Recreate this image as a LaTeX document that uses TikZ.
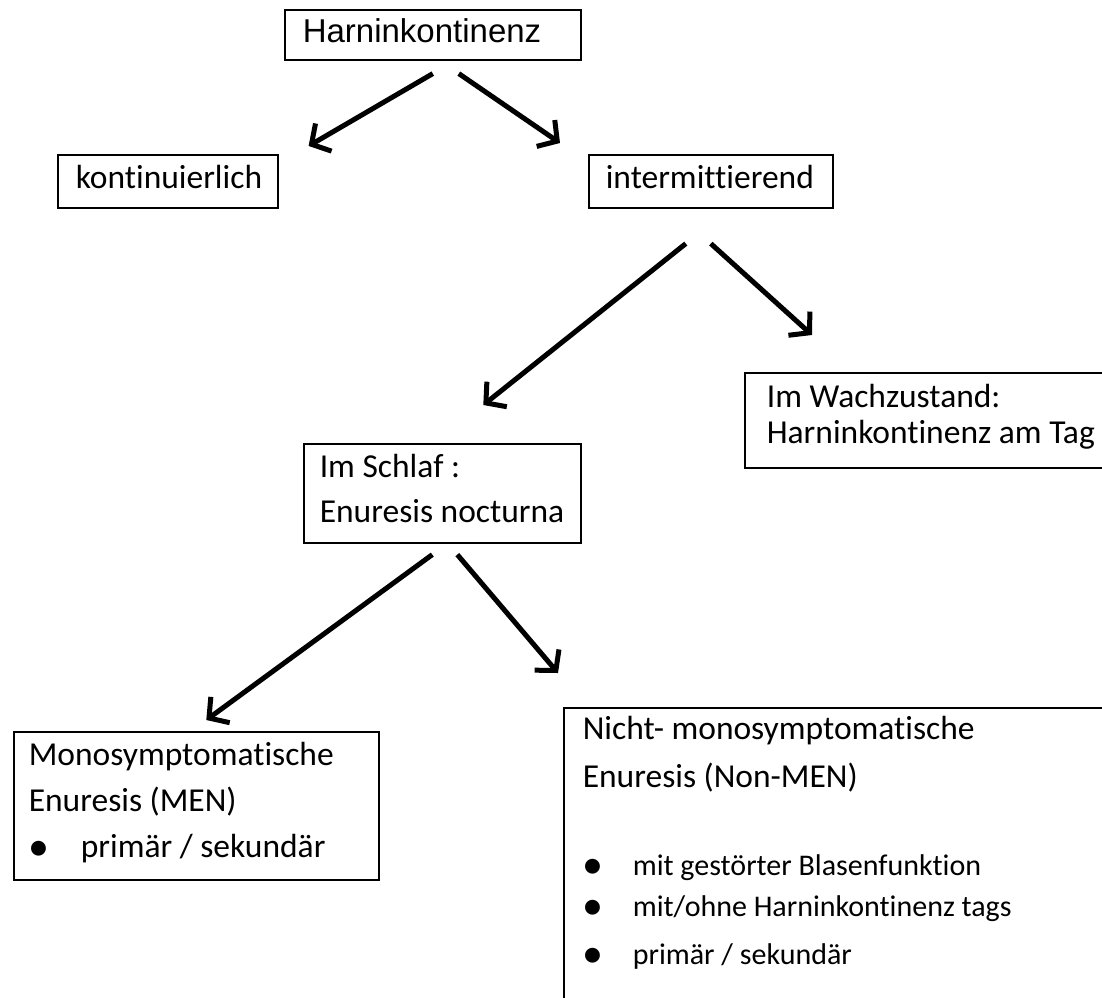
\documentclass[tikz,border=0pt]{standalone}
\usepackage{fontspec}
\setmainfont[RawFeature={-liga;-clig;-calt;-dlig}]{Carlito}
\newfontfamily\arialfont{Liberation Sans}
\usetikzlibrary{arrows.meta,positioning,calc}
\hyphenpenalty=10000
\newcommand{\bulletitem}[2][52pt]{\makebox[#1][l]{\smash{\fontsize{42}{42}\selectfont\raisebox{-3pt}{\textbullet}}}#2}

\begin{document}
\begin{tikzpicture}[x=1pt,y=-1pt,
  box/.style={draw,line width=1.6pt,anchor=north west,inner ysep=0pt,align=flush left,font=\fontsize{33.5}{40}\selectfont},
  arrow/.style={line width=5pt,-{Straight Barb[length=14pt,width=32pt]}}]
\useasboundingbox (0,0) rectangle (1102,997);
\clip (0,0) rectangle (1102,997);

\node[box,font=\arialfont\fontsize{33}{40}\selectfont,text width=260pt,inner xsep=18pt,text height=33pt,text depth=17pt] (harn) at (284,9) {Harninkontinenz};
\node[box,text width=184pt,inner xsep=18pt,text height=34pt,text depth=19pt] (kont) at (57,154) {kontinuierlich};
\node[box,text width=210pt,inner xsep=17pt,text height=34pt,text depth=19pt] (inter) at (588,154) {intermittierend};
\node[box,font=\fontsize{33.5}{36}\selectfont,text width=400pt,inner xsep=22pt,text height=35pt,text depth=60pt] (wach) at (744,372) {Im Wachzustand:\\Harninkontinenz am Tag};
\node[box,font=\fontsize{33.5}{45}\selectfont,text width=245pt,inner xsep=16pt,text height=34pt,text depth=65pt] (schlaf) at (303,443) {Im Schlaf :\\Enuresis nocturna};
\node[box,font=\fontsize{33.5}{46}\selectfont,text width=335pt,inner xsep=15pt,text height=34pt,text depth=114pt] (men) at (13,731) {Monosymptomatische\\Enuresis (MEN)\\\bulletitem{primär / sekundär}};
\node[box,font=\fontsize{33.5}{48}\selectfont,text width=560pt,inner xsep=19pt,text height=32pt,text depth=320pt] (nonmen) at (563,707) {Nicht- monosymptomatische\\Enuresis (Non-MEN)\par\vspace{47pt}\fontsize{30}{41}\selectfont
  \bulletitem[50pt]{mit gestörter Blasenfunktion}\\\bulletitem[50pt]{mit/ohne Harninkontinenz tags}\\\bulletitem[50pt]{primär / sekundär}};

\draw[arrow] ([yshift=-13pt]harn.south) -- ([xshift=30pt,yshift=8pt]kont.north east);
\draw[arrow] ([xshift=26pt,yshift=-13pt]harn.south) -- ([xshift=-28pt,yshift=11pt]inter.north west);
\draw[arrow] ([xshift=-25pt,yshift=-35pt]inter.south) -- ([xshift=41pt,yshift=38pt]schlaf.north);
\draw[arrow] ([yshift=-35pt]inter.south) -- ([xshift=68pt,yshift=37pt]wach.north west);
\draw[arrow] ([xshift=-10pt,yshift=-11pt]schlaf.south) -- ([xshift=10pt,yshift=11pt]men.north);
\draw[arrow] ([xshift=15pt,yshift=-11pt]schlaf.south) -- ([xshift=-5pt,yshift=34pt]nonmen.north west);
\end{tikzpicture}
\end{document}
